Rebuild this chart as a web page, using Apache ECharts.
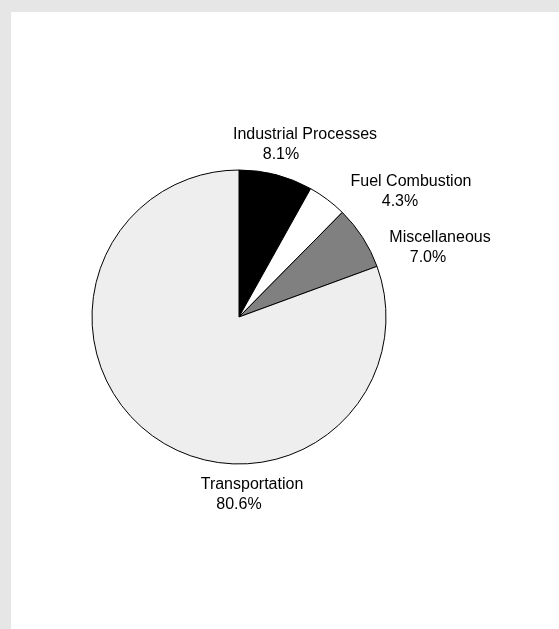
<!DOCTYPE html>
<html>
<head>
<meta charset="utf-8">
<script src="https://cdn.jsdelivr.net/npm/echarts@6/dist/echarts.min.js"></script>
<style>
  html, body { margin: 0; padding: 0; width: 559px; height: 629px; background: #e6e6e6; overflow: hidden; }
  #chart { position: absolute; left: 11px; top: 12px; width: 548px; height: 617px; background: #ffffff; }
</style>
</head>
<body>
<div id="chart"></div>
<script>
// Data
const categories = ['Industrial Processes', 'Fuel Combustion', 'Miscellaneous', 'Transportation'];
const shares = [8.1, 4.3, 7.0, 80.6];

// Styling (kept separate from data)
const sliceColors = ['#000000', '#ffffff', '#808080', '#eeeeee'];
// label anchor points (chart-local px) and left shift of the percent line
const labelSpots = [
  { x: 294, y: 133, shift: 24 },
  { x: 400, y: 180, shift: 11 },
  { x: 429, y: 236, shift: 12 },
  { x: 241, y: 483, shift: 13 }
];

const chart = echarts.init(document.getElementById('chart'), null, { renderer: 'canvas' });

const seriesData = categories.map((name, i) => ({
  name: name,
  value: shares[i],
  itemStyle: { color: sliceColors[i] },
  label: {
    rich: {
      pct: { fontSize: 16, lineHeight: 20, color: '#000', fontFamily: 'Liberation Sans, Arial, sans-serif', padding: [0, labelSpots[i].shift * 2, 0, 0] }
    }
  }
}));

chart.setOption({
  animation: false,
  series: [{
    type: 'pie',
    center: [228, 305],
    radius: [0, 147],
    startAngle: 90,
    clockwise: true,
    silent: true,
    data: seriesData,
    itemStyle: { borderColor: '#000000', borderWidth: 1 },
    label: {
      show: true,
      position: 'outside',
      overflow: 'none',
      alignTo: 'none',
      formatter: p => '{name|' + p.name + '}\n{pct|' + p.value.toFixed(1) + '%}',
      rich: {
        name: { fontSize: 16, lineHeight: 20, color: '#000', fontFamily: 'Liberation Sans, Arial, sans-serif' }
      }
    },
    labelLine: { show: false },
    labelLayout: function (params) {
      const s = labelSpots[params.dataIndex];
      return { x: s.x, y: s.y, align: 'center', verticalAlign: 'middle' };
    }
  }]
});
</script>
</body>
</html>
